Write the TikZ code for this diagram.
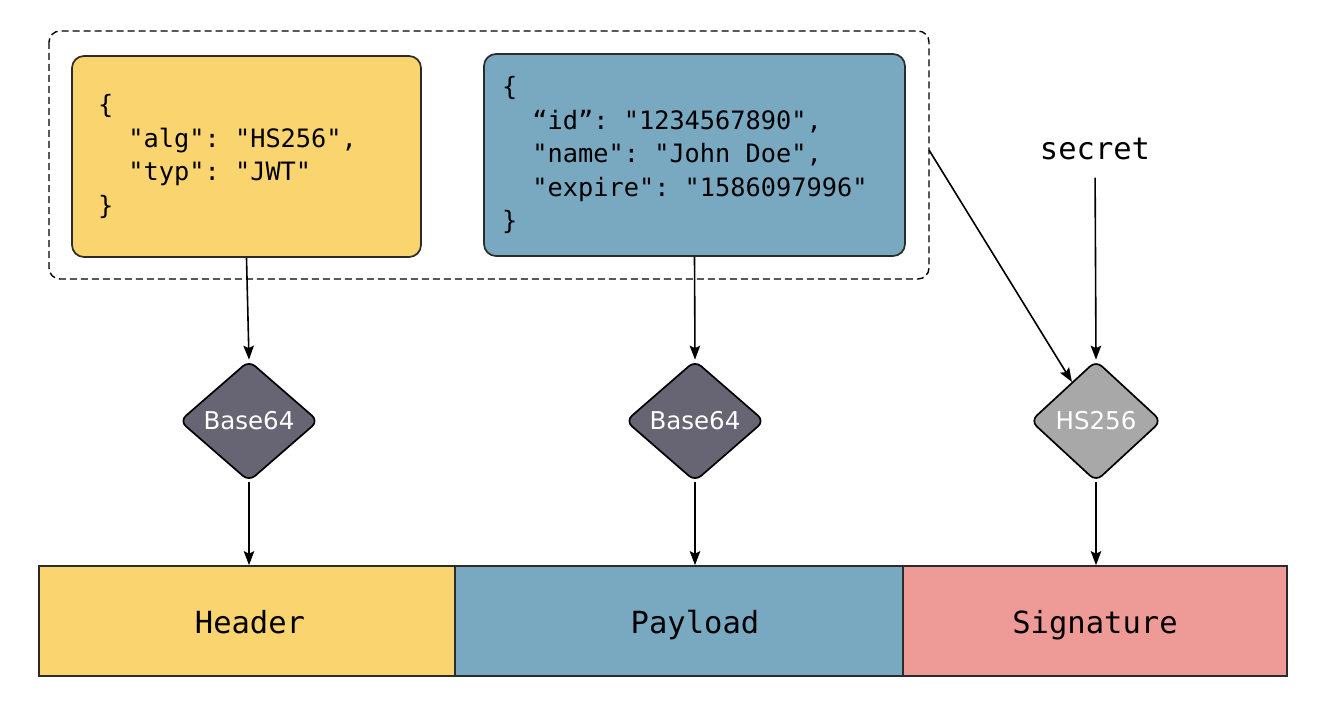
\documentclass[tikz,border=0pt]{standalone}
\usepackage{fontspec}
\setmonofont{DejaVu Sans Mono}
\setsansfont{DejaVu Sans}
\usetikzlibrary{shapes.geometric,arrows.meta}
\definecolor{hdrfill}{HTML}{FAD46E}
\definecolor{payfill}{HTML}{79A8C1}
\definecolor{sigfill}{HTML}{EE9A96}
\definecolor{encfill}{HTML}{676473}
\definecolor{sigop}{HTML}{A8A8A8}
\definecolor{edge}{HTML}{2B2B2B}
% one monospace cell of blank space
\newcommand\mspc{\hspace*{0.602em}}
\begin{document}
\begin{tikzpicture}[x=1pt,y=-1pt,
  jsonbox/.style={draw=edge,line width=1.7pt,rounded corners=12pt,
    inner sep=0pt,align=left,
    font=\ttfamily\fontsize{25.3}{33.5}\selectfont},
  encoder/.style={diamond,draw=black,line width=1.7pt,rounded corners=8pt,
    inner sep=0pt,minimum width=139pt,minimum height=121pt,
    text=white,font=\sffamily\fontsize{24.5}{28}\selectfont},
  part/.style={draw=edge,line width=1.7pt,inner sep=0pt,minimum height=110pt},
  partlabel/.style={anchor=base,inner sep=0pt,
    font=\ttfamily\fontsize{30.5}{34}\selectfont},
  flow/.style={line width=1.6pt,-{Stealth[length=14pt,width=10.5pt,inset=2.5pt]}},
  group/.style={draw=black,line width=1.4pt,dash pattern=on 7pt off 4pt,
    rounded corners=11pt}
]
\useasboundingbox (0,0) rectangle (1322,706);

% dashed group around the two JSON objects
\draw[group] (49,31) rectangle (929,279);

% JSON header and payload
\node[jsonbox,fill=hdrfill,minimum width=349pt,minimum height=201pt,
      text width=297pt] (hjson) at (246.5,156.5)
  {\{\\
  \mspc\mspc"alg":\mspc"HS256",\\
  \mspc\mspc"typ":\mspc"JWT"\\
  \}};
\node[jsonbox,fill=payfill,minimum width=421pt,minimum height=202pt,
      text width=385pt] (pjson) at (694.5,155)
  {\{\\
  \mspc\mspc“id”:\mspc"1234567890",\\
  \mspc\mspc"name":\mspc"John\mspc Doe",\\
  \mspc\mspc"expire":\mspc"1586097996"\\
  \}};

% secret key
\node[font=\ttfamily\fontsize{30.5}{34}\selectfont,anchor=base,inner sep=0pt]
  (secret) at (1095,160) {secret};
\coordinate (grpout) at (929,150);

% encoding steps
\node[encoder,fill=encfill] (enc1) at (249,421) {Base64};
\node[encoder,fill=encfill] (enc2) at (695,421) {Base64};
\node[encoder,fill=sigop,minimum width=131pt] (sign) at (1096,421) {HS256};

% resulting token parts
\node[part,fill=hdrfill,minimum width=416pt] (header) at (247,621) {};
\node[part,fill=payfill,minimum width=448pt] (payload) at (679,621) {};
\node[part,fill=sigfill,minimum width=384pt] (signature) at (1095,621) {};
\node[partlabel] (headerlbl) at (250,633) {Header};
\node[partlabel] (payloadlbl) at (695,633) {Payload};
\node[partlabel] (signaturelbl) at (1095,633) {Signature};

% connectors
\draw[flow] (hjson.south) -- (enc1.north);
\draw[flow] (pjson.south) -- (enc2.north);
\draw[flow,shorten <=17pt] (secret.south) -- (sign.north);
\draw[flow] (grpout) -- (sign);
\draw[flow] (enc1.south) -- (enc1.south |- header.north);
\draw[flow] (enc2.south) -- (enc2.south |- payload.north);
\draw[flow] (sign.south) -- (sign.south |- signature.north);
\end{tikzpicture}
\end{document}
